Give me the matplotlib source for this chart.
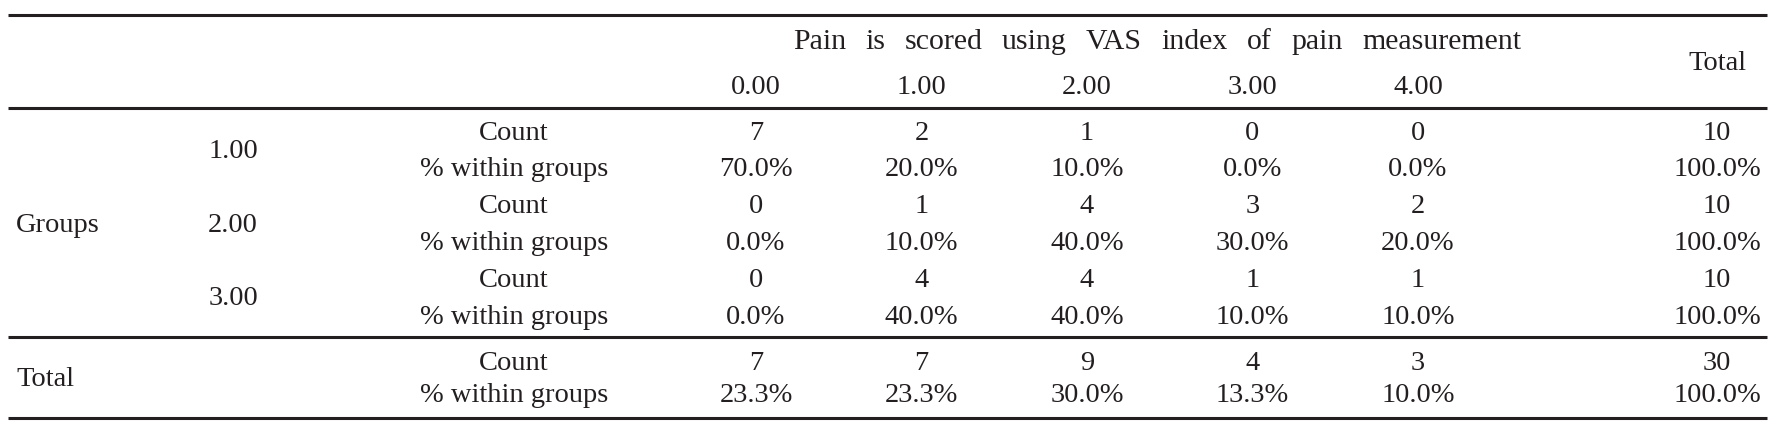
import matplotlib
matplotlib.use("Agg")
from matplotlib import pyplot as plt

# table content
pain_levels = ["0.00", "1.00", "2.00", "3.00", "4.00"]
group_levels = ["1.00", "2.00", "3.00"]
counts = [[7, 2, 1, 0, 0],
          [0, 1, 4, 3, 2],
          [0, 4, 4, 1, 1]]
percents = [[70.0, 20.0, 10.0, 0.0, 0.0],
            [0.0, 10.0, 40.0, 30.0, 20.0],
            [0.0, 40.0, 40.0, 10.0, 10.0]]
group_totals = [10, 10, 10]
total_counts = [7, 7, 9, 4, 3]
total_percents = [23.3, 23.3, 30.0, 13.3, 10.0]
grand_total = 30
header_title = "Pain is scored using VAS index of pain measurement"
stat_labels = ["Count", "% within groups"]

W, H = 1782, 426
fig = plt.figure(figsize=(W / 100, H / 100), dpi=100)
ax = fig.add_axes([0, 0, 1, 1])
ax.set_xlim(0, W)
ax.set_ylim(H, 0)
ax.axis("off")

ink = "#231f20"
fs = 20.5
font = dict(family="Liberation Serif", color=ink, fontsize=fs, va="center")

# layout (pixels)
col_x = [756 + 165.5 * i for i in range(len(pain_levels))]
total_x = 1717
stat_x = 514
level_x = 233
left_x = 16
row_y0 = 133
row_step = 36.8

# rules
for y in [15, 108, 337, 418]:
    ax.plot([8, 1767], [y, y], color=ink, lw=2.2, solid_capstyle="butt")

# header title: words spread to fill the span used in the reference
span_l, span_r = 793, 1521
title_font = dict(font, fontsize=21.5)
renderer = fig.canvas.get_renderer()
words = header_title.split()
arts = [ax.text(0, 42, w, ha="left", **title_font) for w in words]
widths = [a.get_window_extent(renderer).width for a in arts]
gap = (span_r - span_l - sum(widths)) / (len(words) - 1)
x = span_l
for a, w in zip(arts, widths):
    a.set_x(x)
    x += w + gap

for x, lab in zip(col_x, pain_levels):
    ax.text(x, 87, lab, ha="center", **font)
ax.text(total_x, 64, "Total", ha="center", **font)

# group rows
for g, lev in enumerate(group_levels):
    yc = row_y0 + row_step * 2 * g
    yp = yc + row_step
    ax.text(level_x, (yc + yp) / 2, lev, ha="center", **font)
    ax.text(stat_x, yc, stat_labels[0], ha="center", **font)
    ax.text(stat_x, yp, stat_labels[1], ha="center", **font)
    for x, c, p in zip(col_x, counts[g], percents[g]):
        ax.text(x, yc, str(c), ha="center", **font)
        ax.text(x, yp, f"{p:.1f}%", ha="center", **font)
    ax.text(total_x, yc, str(group_totals[g]), ha="center", **font)
    ax.text(total_x, yp, "100.0%", ha="center", **font)

ax.text(left_x, row_y0 + row_step * 2.5, "Groups", ha="left", **font)

# total rows
yc, yp = 363, 395
ax.text(left_x, (yc + yp) / 2, "Total", ha="left", **font)
ax.text(stat_x, yc, stat_labels[0], ha="center", **font)
ax.text(stat_x, yp, stat_labels[1], ha="center", **font)
for x, c, p in zip(col_x, total_counts, total_percents):
    ax.text(x, yc, str(c), ha="center", **font)
    ax.text(x, yp, f"{p:.1f}%", ha="center", **font)
ax.text(total_x, yc, str(grand_total), ha="center", **font)
ax.text(total_x, yp, "100.0%", ha="center", **font)

fig.savefig("out.png", dpi=100)
